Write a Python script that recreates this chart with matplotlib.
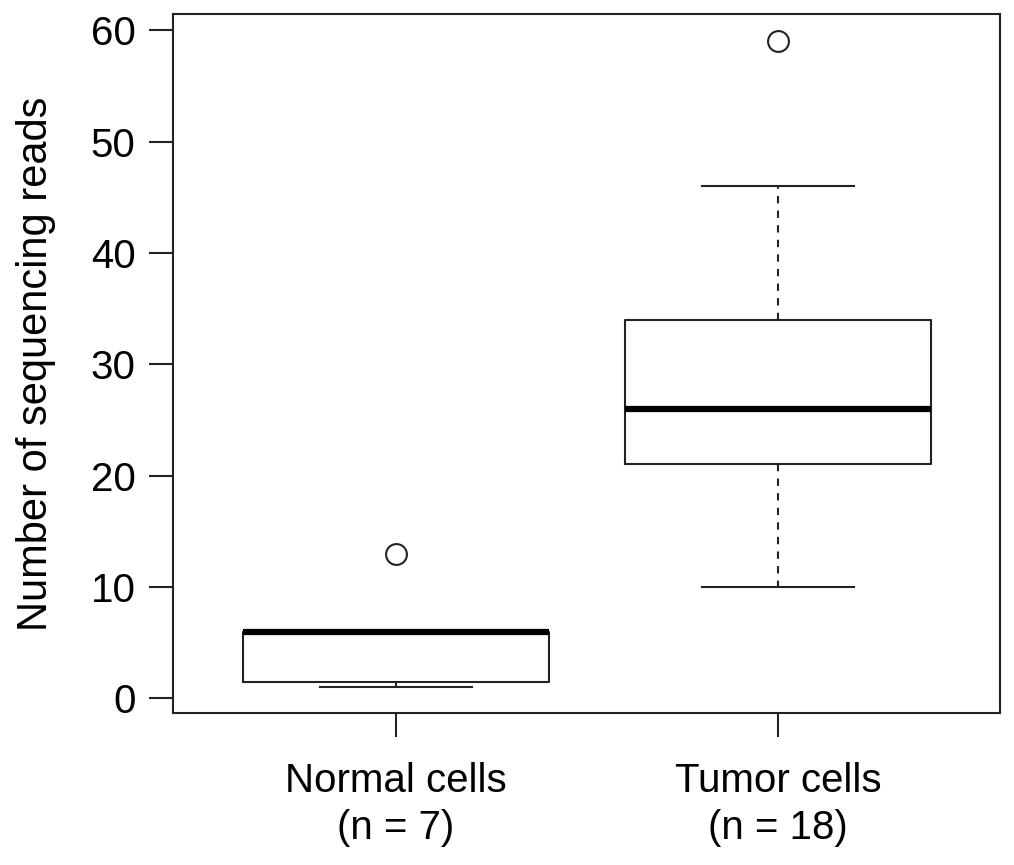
import matplotlib
matplotlib.use("Agg")
import matplotlib.pyplot as plt

plt.rcParams['font.family'] = ['Liberation Sans', 'DejaVu Sans']

# box statistics
groups = ["Normal cells\n(n = 7)", "Tumor cells\n(n = 18)"]
q1 = [1.5, 21]
medians = [6, 26]
q3 = [6, 34]
whislo = [1, 10]
whishi = [6, 46]
outliers = [[13], [59]]
yticks = [0, 10, 20, 30, 40, 50, 60]

stats = []
for i in range(len(groups)):
    stats.append(dict(q1=q1[i], med=medians[i], q3=q3[i],
                      whislo=whislo[i], whishi=whishi[i], fliers=outliers[i]))

fig = plt.figure(figsize=(10.14, 8.65), dpi=100)
ax = fig.add_axes([0.1706, 0.1757, 0.8156, 0.808])

lc = '#222222'
ax.bxp(stats, positions=[1, 2], widths=0.8,
       boxprops=dict(color=lc, linewidth=1.5),
       medianprops=dict(color='black', linewidth=4.5, solid_capstyle='butt'),
       whiskerprops=dict(color=lc, linewidth=1.5, linestyle=(0, (3.5, 3.5))),
       capprops=dict(color=lc, linewidth=1.5),
       capwidths=0.4,
       flierprops=dict(marker='o', markersize=15, markerfacecolor='none',
                       markeredgecolor=lc, markeredgewidth=1.5))

ax.set_xlim(0.416, 2.581)
ax.set_ylim(-1.32, 61.45)
ax.set_yticks(yticks)
ax.set_xticks([1, 2])
ax.set_xticklabels(groups, linespacing=1.31)
ax.set_ylabel("Number of sequencing reads", fontsize=30, labelpad=25)

for s in ax.spines.values():
    s.set_color(lc)
    s.set_linewidth(1.5)
ax.tick_params(axis='both', labelsize=29, length=17, width=1.5, color=lc)
ax.tick_params(axis='y', pad=10)
ax.tick_params(axis='x', pad=18)

fig.savefig("out.png", dpi=100)
